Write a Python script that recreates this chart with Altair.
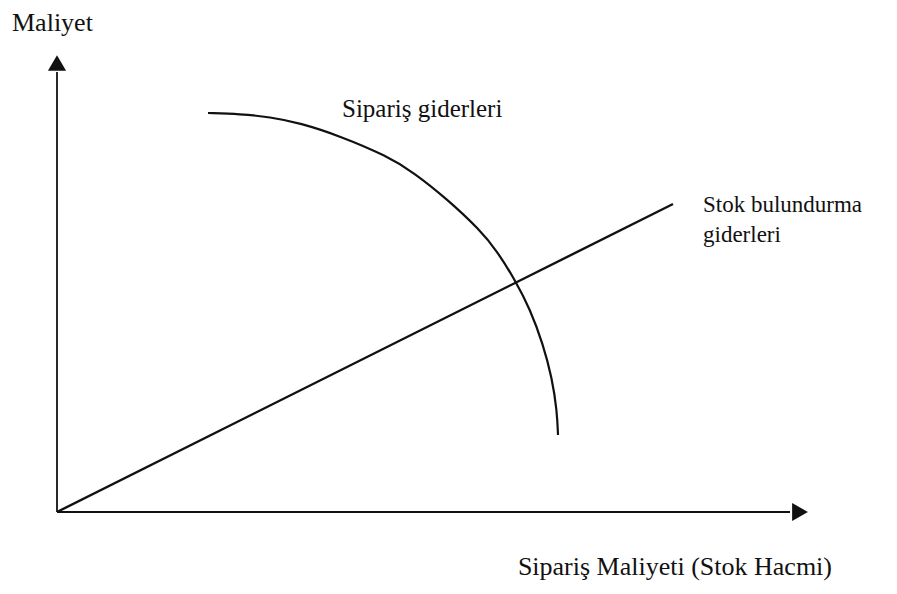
import altair as alt
import pandas as pd

# Conceptual coordinates: origin of the diagram at (0, 0)
# Axes (start and end of each axis line)
axis_name = ["y-axis", "x-axis"]
axis_x0 = [0, 0]
axis_y0 = [0, 0]
axis_x1 = [0, 733]
axis_y1 = [440, 0]

# Arrow heads
arrow_x = [0, 743]
arrow_y = [449, 0]
arrow_shape = ["triangle-up", "triangle-right"]

# Holding cost line (Stok bulundurma giderleri)
hold_x = [0, 616]
hold_y = [0, 308]

# Ordering cost curve (Sipariş giderleri)
order_x = [151, 183, 213, 243, 283, 330, 356, 390, 423, 440, 458, 473, 486, 495, 500, 501]
order_y = [399, 398, 395, 389, 376, 356, 340, 313, 282, 261, 232, 203, 168, 134, 101, 77]

# Labels
label_text = ["Maliyet", "Sipariş giderleri", ["Stok bulundurma", "giderleri"]]
label_x = [-45, 285, 646]
label_y = [481, 395, 300]
size_label = [26, 25, 23]

bottom_text = ["Sipariş Maliyeti (Stok Hacmi)"]
bottom_x = [775]
bottom_y = [-63]

X_DOMAIN = [-49, 831]
Y_DOMAIN = [-72, 504]
INK = "#111111"
FONT = "Liberation Serif"

xs = alt.Scale(domain=X_DOMAIN, nice=False, zero=False)
ys = alt.Scale(domain=Y_DOMAIN, nice=False, zero=False)

axes_df = pd.DataFrame({"name": axis_name, "x": axis_x0, "y": axis_y0, "x2": axis_x1, "y2": axis_y1})
arrow_df = pd.DataFrame({"x": arrow_x, "y": arrow_y, "shape": arrow_shape})
hold_df = pd.DataFrame({"x": hold_x, "y": hold_y})
order_df = pd.DataFrame({"x": order_x, "y": order_y, "i": list(range(len(order_x)))})
label_df = pd.DataFrame({"text": label_text, "x": label_x, "y": label_y, "s": size_label})
bottom_df = pd.DataFrame({"text": bottom_text, "x": bottom_x, "y": bottom_y})

axes = alt.Chart(axes_df).mark_rule(color=INK, strokeWidth=1.8).encode(
    x=alt.X("x:Q", scale=xs, axis=None),
    y=alt.Y("y:Q", scale=ys, axis=None),
    x2="x2:Q",
    y2="y2:Q",
)

arrows = alt.Chart(arrow_df).mark_point(filled=True, color=INK, size=330, opacity=1).encode(
    x=alt.X("x:Q", scale=xs, axis=None),
    y=alt.Y("y:Q", scale=ys, axis=None),
    shape=alt.Shape("shape:N", scale=None, legend=None),
)

hold = alt.Chart(hold_df).mark_line(color=INK, strokeWidth=2.4).encode(
    x=alt.X("x:Q", scale=xs, axis=None),
    y=alt.Y("y:Q", scale=ys, axis=None),
)

order = alt.Chart(order_df).mark_line(color=INK, strokeWidth=2.2, interpolate="basis").encode(
    x=alt.X("x:Q", scale=xs, axis=None),
    y=alt.Y("y:Q", scale=ys, axis=None),
    order="i:Q",
)

labels = alt.Chart(label_df).mark_text(
    align="left", baseline="alphabetic", font=FONT, color=INK, lineHeight=30
).encode(
    x=alt.X("x:Q", scale=xs, axis=None),
    y=alt.Y("y:Q", scale=ys, axis=None),
    text="text",
    size=alt.Size("s:Q", scale=None, legend=None),
)

bottom = alt.Chart(bottom_df).mark_text(
    align="right", baseline="alphabetic", font=FONT, color=INK, fontSize=26
).encode(
    x=alt.X("x:Q", scale=xs, axis=None),
    y=alt.Y("y:Q", scale=ys, axis=None),
    text="text",
)

chart = alt.layer(axes, hold, order, arrows, labels, bottom).properties(
    width=880,
    height=576,
    autosize=alt.AutoSizeParams(type="none"),
    padding=0,
    background="white",
).configure_view(stroke=None)

chart.save("out.html", embed_options={"renderer": "svg", "actions": False})
